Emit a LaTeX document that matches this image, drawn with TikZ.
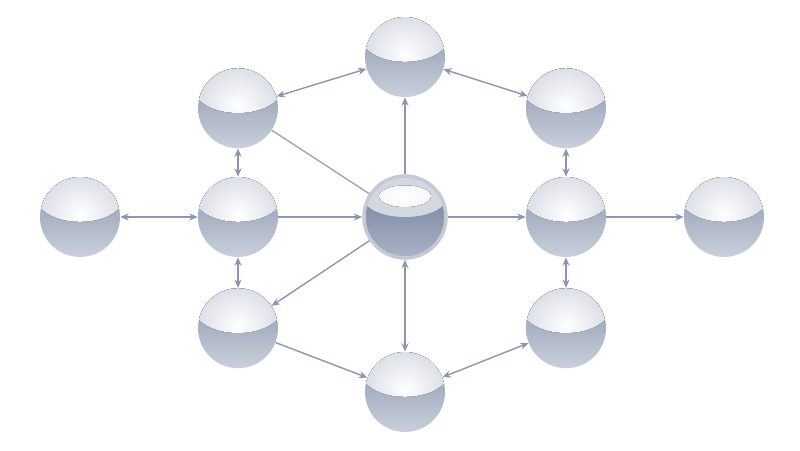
\documentclass[tikz,border=0pt]{standalone}
\usepackage{tikz}
\usetikzlibrary{arrows.meta, positioning}
\definecolor{orbcapout}{HTML}{D8DCE4}
\definecolor{orbdark}{HTML}{8A96AE}
\definecolor{orblight}{HTML}{C9CFDB}
\definecolor{hubrim}{HTML}{C3C9D6}
\definecolor{hubdark}{HTML}{6E7B97}
\definecolor{hublow}{HTML}{AAB3C6}
\definecolor{hubcap}{HTML}{D3D7E0}
\definecolor{linkcol}{HTML}{8D96AB}
\tikzstyle{orb} = [circle, minimum size=2cm, inner sep=0pt, top color=orbdark, bottom color=orblight,
  path picture={\fill[inner color=white, outer color=orbcapout] ([yshift=0.5cm]path picture bounding box.center) ellipse [x radius=1.1cm, y radius=0.62cm];}]
\tikzstyle{hub} = [circle, minimum size=2.05cm, inner sep=0pt, draw=hubrim, line width=2.5pt, top color=hubdark, bottom color=hublow,
  path picture={\fill[hubcap] ([yshift=0.5cm]path picture bounding box.center) ellipse [x radius=1.05cm, y radius=0.5cm];
    \fill[inner color=white, outer color=white!80!hubcap] ([yshift=0.52cm]path picture bounding box.center) ellipse [x radius=0.65cm, y radius=0.27cm];}]
\tikzstyle{arrow} = [linkcol, line width=1pt, -{Stealth[length=6pt,width=5pt]}]
\tikzstyle{twoway} = [linkcol, line width=1pt, {Stealth[length=6pt,width=5pt]}-{Stealth[length=6pt,width=5pt]}]
\tikzstyle{link} = [linkcol!85, line width=1pt]

\begin{document}
\begin{tikzpicture}[node distance=4.1cm]
			\useasboundingbox (-10.125,-5.825) rectangle (9.875,5.425);
			\node (hub) [hub] {};
			\node (midleft) [orb, node distance=4.175cm, left of=hub] {};
			\node (midright) [orb, node distance=4.025cm, right of=hub] {};
			\node (farleft) [orb, node distance=3.95cm, left of=midleft] {};
			\node (farright) [orb, node distance=3.95cm, right of=midright] {};
			\node (upleft) [orb, node distance=2.72cm, above of=midleft] {};
			\node (upright) [orb, node distance=2.72cm, above of=midright] {};
			\node (lowleft) [orb, node distance=2.78cm, below of=midleft] {};
			\node (lowright) [orb, node distance=2.78cm, below of=midright] {};
			\node (top) [orb, node distance=4.0cm, above of=hub] {};
			\node (bottom) [orb, node distance=4.375cm, below of=hub] {};
			
			\draw [twoway] (upleft) -- (top);
			\draw [twoway] (top) -- (upright);
			\draw [twoway] (upleft) -- (midleft);
			\draw [twoway] (upright) -- (midright);
			\draw [twoway] (farleft) -- (midleft);
			\draw [arrow] (midleft) -- (hub);
			\draw [arrow] (hub) -- (midright);
			\draw [arrow] (midright) -- (farright);
			\draw [link] (upleft) -- (hub);
			\draw [arrow] (hub) -- (top);
			\draw [twoway] (midleft) -- (lowleft);
			\draw [twoway] (midright) -- (lowright);
			\draw [arrow] (hub) -- (lowleft);
			\draw [twoway] (hub) -- (bottom);
			\draw [arrow] (lowleft) -- (bottom);
			\draw [twoway] (bottom) -- (lowright);
		\end{tikzpicture}
\end{document}
